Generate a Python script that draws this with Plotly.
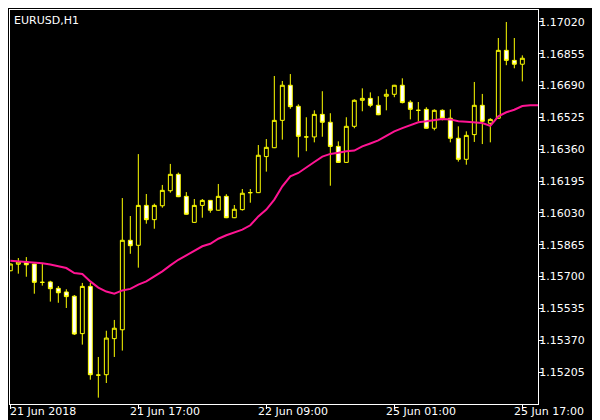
import plotly.graph_objects as go

# ---- data (EURUSD H1) ----
opens = [1.15730, 1.15764, 1.15775, 1.15765, 1.15670, 1.15672, 1.15639, 1.15620, 1.15598, 1.15404,
         1.15649, 1.15189, 1.15191, 1.15378, 1.15424, 1.15888, 1.15862, 1.16069, 1.15995, 1.16067,
         1.16145, 1.16230, 1.16116, 1.15981, 1.16069, 1.16095, 1.16044, 1.16116, 1.16005, 1.16047,
         1.16135, 1.16135, 1.16322, 1.16368, 1.16510, 1.16692, 1.16583, 1.16424, 1.16424, 1.16541,
         1.16500, 1.16375, 1.16292, 1.16479, 1.16614, 1.16624, 1.16588, 1.16635, 1.16645, 1.16692,
         1.16604, 1.16562, 1.16567, 1.16469, 1.16562, 1.16521, 1.16417, 1.16308, 1.16436, 1.16588,
         1.16495, 1.16521, 1.16873, 1.16821, 1.16801]
highs = [1.15767, 1.15796, 1.15801, 1.15767, 1.15765, 1.15678, 1.15651, 1.15634, 1.15604, 1.15667,
         1.15667, 1.15283, 1.15419, 1.15475, 1.16107, 1.16014, 1.16335, 1.16128, 1.16078, 1.16175,
         1.16284, 1.16239, 1.16138, 1.16102, 1.16102, 1.16097, 1.16180, 1.16127, 1.16071, 1.16154,
         1.16154, 1.16382, 1.16413, 1.16740, 1.16714, 1.16750, 1.16593, 1.16526, 1.16562, 1.16661,
         1.16547, 1.16401, 1.16526, 1.16619, 1.16676, 1.16655, 1.16635, 1.16671, 1.16694, 1.16728,
         1.16614, 1.16605, 1.16578, 1.16567, 1.16567, 1.16567, 1.16479, 1.16453, 1.16709, 1.16647,
         1.16521, 1.16937, 1.17020, 1.16937, 1.16847]
lows = [1.15728, 1.15715, 1.15699, 1.15611, 1.15653, 1.15570, 1.15564, 1.15537, 1.15397, 1.15347,
        1.15165, 1.15072, 1.15148, 1.15283, 1.15316, 1.15818, 1.15746, 1.15974, 1.15948, 1.16057,
        1.16135, 1.16112, 1.16021, 1.15979, 1.16005, 1.16031, 1.16042, 1.16003, 1.16003, 1.16042,
        1.16083, 1.16133, 1.16244, 1.16366, 1.16410, 1.16570, 1.16318, 1.16350, 1.16396, 1.16425,
        1.16171, 1.16290, 1.16290, 1.16469, 1.16557, 1.16578, 1.16537, 1.16562, 1.16630, 1.16598,
        1.16515, 1.16505, 1.16467, 1.16458, 1.16510, 1.16396, 1.16296, 1.16280, 1.16398, 1.16387,
        1.16396, 1.16519, 1.16796, 1.16780, 1.16712]
closes = [1.15765, 1.15775, 1.15761, 1.15670, 1.15670, 1.15637, 1.15616, 1.15596, 1.15402, 1.15649,
          1.15191, 1.15189, 1.15381, 1.15432, 1.15888, 1.15860, 1.16069, 1.15995, 1.16069, 1.16147,
          1.16230, 1.16114, 1.16023, 1.16069, 1.16095, 1.16044, 1.16116, 1.16005, 1.16049, 1.16132,
          1.16135, 1.16329, 1.16370, 1.16510, 1.16692, 1.16581, 1.16427, 1.16424, 1.16541, 1.16500,
          1.16375, 1.16292, 1.16479, 1.16614, 1.16624, 1.16588, 1.16539, 1.16645, 1.16692, 1.16602,
          1.16567, 1.16562, 1.16469, 1.16562, 1.16521, 1.16417, 1.16308, 1.16432, 1.16588, 1.16505,
          1.16515, 1.16873, 1.16821, 1.16801, 1.16832]
moving_avg = [1.15782, 1.15779, 1.15777, 1.15773, 1.15769, 1.15762, 1.15753, 1.15744, 1.15718, 1.15713,
              1.15675, 1.15643, 1.15622, 1.15611, 1.15628, 1.15636, 1.15658, 1.15675, 1.15701, 1.15727,
              1.15758, 1.15787, 1.15810, 1.15835, 1.15857, 1.15870, 1.15896, 1.15914, 1.15927, 1.15943,
              1.15966, 1.16012, 1.16047, 1.16099, 1.16168, 1.16220, 1.16237, 1.16267, 1.16294, 1.16322,
              1.16336, 1.16342, 1.16350, 1.16353, 1.16375, 1.16390, 1.16406, 1.16430, 1.16453, 1.16470,
              1.16484, 1.16500, 1.16505, 1.16512, 1.16517, 1.16515, 1.16505, 1.16503, 1.16501, 1.16496,
              1.16481, 1.16531, 1.16552, 1.16565, 1.16584, 1.16588, 1.16588]

x_tick_bars = [0, 16, 32, 48, 64]
x_tick_labels = ["21 Jun 2018", "21 Jun 17:00", "22 Jun 09:00", "25 Jun 01:00", "25 Jun 17:00"]
y_tick_values = [1.17020, 1.16855, 1.16690, 1.16525, 1.16360, 1.16195, 1.16030,
                 1.15865, 1.15700, 1.15535, 1.15370, 1.15205]

bars = list(range(len(opens)))
ma_x = list(range(len(moving_avg)))

FONT = "DejaVu Sans"

fig = go.Figure()
fig.add_trace(go.Candlestick(
    x=bars, open=opens, high=highs, low=lows, close=closes,
    increasing=dict(line=dict(color="#FFFF00", width=1), fillcolor="#000000"),
    decreasing=dict(line=dict(color="#FFFF00", width=1), fillcolor="#FFFFFF"),
    whiskerwidth=0, showlegend=False, hoverinfo="skip",
))
fig.add_trace(go.Scatter(
    x=ma_x, y=moving_avg, mode="lines",
    line=dict(color="#FF1493", width=2), showlegend=False, hoverinfo="skip",
))

annotations = [dict(text="EURUSD,H1", xref="paper", yref="paper", x=0, y=1,
                    xanchor="left", yanchor="top", xshift=2, yshift=-2,
                    showarrow=False, font=dict(family=FONT, size=11, color="#FFFFFF"))]
for b, lab in zip(x_tick_bars, x_tick_labels):
    if b == x_tick_bars[0]:
        annotations.append(dict(text=lab, xref="paper", yref="paper", x=0, y=0,
                                xanchor="left", yanchor="top", xshift=-2, yshift=1,
                                showarrow=False, font=dict(family=FONT, size=11, color="#FFFFFF")))
    else:
        annotations.append(dict(text=lab, xref="x", yref="paper", x=b, y=0,
                                xanchor="left", yanchor="top", xshift=-10, yshift=1,
                                showarrow=False, font=dict(family=FONT, size=11, color="#FFFFFF")))

fig.update_layout(
    width=600, height=420,
    margin=dict(l=2, r=70, t=2, b=24, autoexpand=False),
    paper_bgcolor="#000000", plot_bgcolor="#000000",
    font=dict(family=FONT, size=11, color="#FFFFFF"),
    showlegend=False,
    annotations=annotations,
)
fig.update_xaxes(
    range=[-0.04, 65.96], rangeslider=dict(visible=False), automargin=False,
    showgrid=False, zeroline=False,
    showline=True, mirror=True, linecolor="#FFFFFF", linewidth=1,
    tickmode="array", tickvals=x_tick_bars, showticklabels=False,
    ticks="outside", ticklen=4, tickcolor="#FFFFFF", tickwidth=1,
)
fig.update_yaxes(
    range=[1.150391, 1.170822], side="right", automargin=False,
    showgrid=False, zeroline=False,
    showline=True, mirror=True, linecolor="#FFFFFF", linewidth=1,
    tickmode="array", tickvals=y_tick_values, tickformat=".5f",
    ticks="outside", ticklen=4, tickcolor="#FFFFFF", tickwidth=1,
    ticklabelstandoff=-6,
    tickfont=dict(family=FONT, size=11, color="#FFFFFF"),
)

fig.write_html("out.html")
